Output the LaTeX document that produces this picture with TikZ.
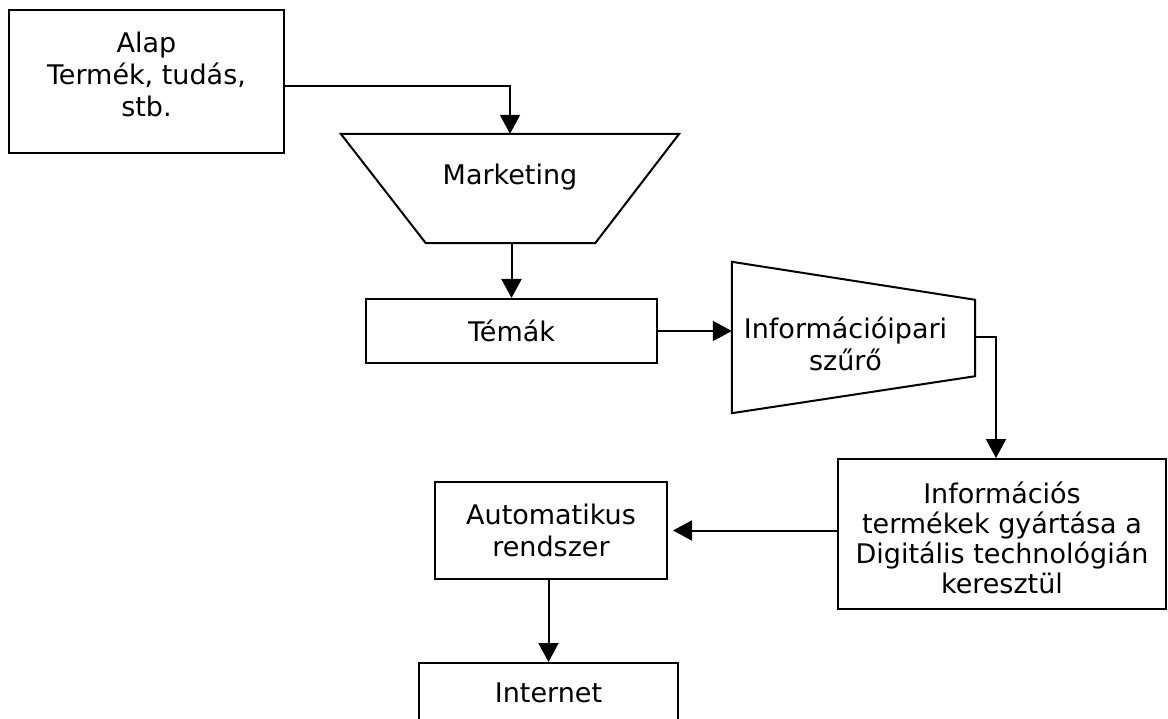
\documentclass[tikz,border=0pt]{standalone}
\usepackage{fontspec}
\setmainfont{DejaVu Sans}
\usetikzlibrary{arrows.meta}
\tikzset{
  box/.style={draw, line width=2pt, align=center, inner sep=0pt},
  hidden/.style={draw=none, inner sep=0pt},
  lin/.style={line width=2pt},
  arr/.style={line width=2pt, -{Triangle[length=19pt,width=20pt]}},
}
\begin{document}
\begin{tikzpicture}[x=1pt,y=-1pt]
            \useasboundingbox (0,0) rectangle (1168,719);
            {\fontsize{27}{32}\selectfont
            
            % Drawing box Alap
            \node (alap) [box, minimum width=275pt, minimum height=143pt] at (146.5,81.5) {};%
            \node (alaptext) [align=center] at ([yshift=7pt]alap.center) {Alap\\Termék, tudás,\\stb.};%
            
            % Drawing funnel Marketing
            \node (mkt) [hidden, minimum width=338pt, minimum height=109pt] at (510,188.5) {};%
            \draw [lin] (mkt.north west) -- (mkt.north east) -- ([xshift=-84pt]mkt.south east) -- ([xshift=85pt]mkt.south west) -- cycle;%
            \node (mkttext) at ([yshift=11pt]mkt.center) {Marketing};%
            
            % Drawing box Temak
            \node (tem) [box, minimum width=291pt, minimum height=64pt] at (511.5,331) {Témák};%
            
            % Drawing filter
            \node (flt) [hidden, minimum width=243pt, minimum height=151pt] at (853.5,337.5) {};%
            \draw [lin] (flt.north west) -- ([yshift=-38pt]flt.north east) -- ([yshift=37pt]flt.south east) -- (flt.south west) -- cycle;%
            \node (flttext) [align=center] at ([xshift=-8pt,yshift=-6pt]flt.center) {Információipari\\szűrő};%
            
            % Drawing box Informacios
            \node (info) [box, minimum width=328pt, minimum height=150pt] at (1002,534) {};%
            \node (infotext) [align=center, font=\fontsize{27}{30}\selectfont] at ([yshift=-4pt]info.center) {Információs\\termékek gyártása a\\Digitális technológián\\keresztül};%
            
            % Drawing box Automatikus
            \node (auto) [box, minimum width=232pt, minimum height=97pt] at (551,530.5) {Automatikus\\rendszer};%
            
            % Drawing box Internet
            \node (net) [box, minimum width=259pt, minimum height=60pt] at (548.5,693) {Internet};%
            
            % Drawing arrows
            \draw [arr] ([yshift=-4.5pt]alap.east) -| (mkt.north);%
            \draw [arr] (tem.north |- mkt.south) -- (tem.north);%
            \draw [arr] (tem.east) -- (tem.east -| flt.west);%
            \draw [arr] (flt.east) -| ([xshift=-6pt]info.north);%
            \draw [arr, shorten >=5pt] (info.west |- auto.east) -- (auto.east);%
            \draw [arr] (net.north |- auto.south) -- (net.north);%
            }
\end{tikzpicture}
\end{document}
